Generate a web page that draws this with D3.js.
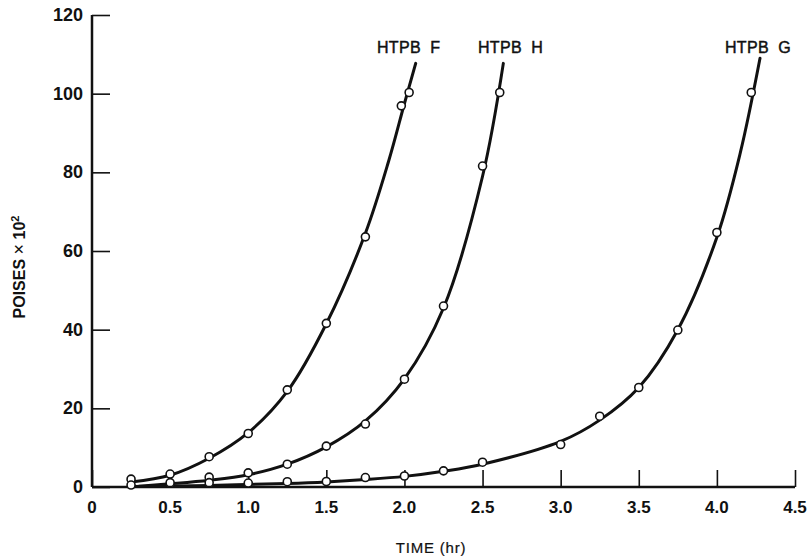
<!DOCTYPE html>
<html lang="en">
<head>
<meta charset="utf-8">
<script src="https://d3js.org/d3.v7.min.js"></script>
<style>
  body { margin: 0; background: #fff; }
  svg { display: block; }
  .tick-lab { font-family: "Liberation Sans", Arial, sans-serif; font-weight: bold; fill: #111; }
  .curve { fill: none; stroke: #111; stroke-width: 3; stroke-linecap: round; }
  .pt { fill: #fff; stroke: #111; stroke-width: 1.6; }
</style>
</head>
<body>
<svg width="812" height="557"></svg>
<script>
var w = 812, h = 557;

// tick labels
var xTicks = [0, 0.5, 1.0, 1.5, 2.0, 2.5, 3.0, 3.5, 4.0, 4.5];
var xTickLabels = ["0", "0.5", "1.0", "1.5", "2.0", "2.5", "3.0", "3.5", "4.0", "4.5"];
var yTicks = [0, 20, 40, 60, 80, 100, 120];

var seriesNames = ["HTPB F", "HTPB H", "HTPB G"];

// measured points (time hr, poises x 10^2)
var fTime = [0.25, 0.5, 0.75, 1.0, 1.25, 1.5, 1.75, 1.98, 2.03];
var fVisc = [2.0, 3.3, 7.7, 13.6, 24.7, 41.6, 63.6, 96.9, 100.3];

var hTime = [0.25, 0.5, 0.75, 1.0, 1.25, 1.5, 1.75, 2.0, 2.25, 2.5, 2.61];
var hVisc = [0.5, 1.1, 2.5, 3.6, 5.8, 10.4, 16.0, 27.4, 46.0, 81.6, 100.3];

var gTime = [0.75, 1.0, 1.25, 1.5, 1.75, 2.0, 2.25, 2.5, 3.0, 3.25, 3.5, 3.75, 4.0, 4.22];
var gVisc = [1.1, 1.0, 1.35, 1.4, 2.4, 2.8, 4.1, 6.3, 10.8, 18.0, 25.3, 39.9, 64.7, 100.3];

// hand drawn fitted curves
var fCurveT = [0.25, 0.5, 0.75, 1.0, 1.25, 1.5, 1.75, 1.9, 2.0, 2.072];
var fCurveV = [1.3, 3.0, 7.3, 13.8, 24.3, 41.5, 64.5, 83, 97.5, 107.7];

var hCurveT = [0.3, 0.5, 0.75, 1.0, 1.25, 1.5, 1.75, 2.0, 2.25, 2.5, 2.633];
var hCurveV = [0.2, 0.8, 1.7, 3.1, 5.8, 10.2, 16.8, 27.5, 45.5, 79, 107.7];

var gCurveT = [0.25, 0.75, 1.25, 1.5, 1.75, 2.0, 2.25, 2.5, 3.0, 3.25, 3.5, 3.75, 4.0, 4.15, 4.276];
var gCurveV = [0.1, 0.4, 0.9, 1.3, 1.9, 2.7, 4.0, 5.8, 11.6, 17, 25.3, 40, 63.5, 85, 109];

var svg = d3.select("svg");

var x = d3.scaleLinear().domain([0, 4.5]).range([92, 795]);
var y = d3.scaleLinear().domain([0, 120]).range([487, 15]);

// axes, ticks point inward
var xAxis = d3.axisTop(x).tickValues(xTicks).tickSize(17).tickFormat(function(d, i) { return ""; });
var gx = svg.append("g").attr("transform", "translate(0," + y(0) + ")").call(xAxis);
gx.select(".domain").attr("d", "M" + x(0) + ",0H" + x(4.5)).attr("stroke", "#111").attr("stroke-width", 2.5);
gx.selectAll(".tick line").attr("stroke", "#111").attr("stroke-width", 1.6);

var yAxis = d3.axisRight(y).tickValues(yTicks).tickSize(18).tickFormat(function() { return ""; });
var gy = svg.append("g").attr("transform", "translate(" + x(0) + ",0)").call(yAxis);
gy.select(".domain").attr("d", "M0," + y(120) + "V" + y(0)).attr("stroke", "#111").attr("stroke-width", 2.5);
gy.selectAll(".tick line").attr("stroke", "#111").attr("stroke-width", 1.6);

// tick labels
svg.selectAll(".xl").data(xTicks).enter().append("text")
  .attr("class", "tick-lab")
  .attr("x", function(d) { return x(d); })
  .attr("y", 513)
  .attr("text-anchor", "middle")
  .attr("font-size", 17)
  .text(function(d, i) { return xTickLabels[i]; });

svg.selectAll(".yl").data(yTicks).enter().append("text")
  .attr("class", "tick-lab")
  .attr("x", 83)
  .attr("y", function(d) { return y(d) + 6; })
  .attr("text-anchor", "end")
  .attr("font-size", 18)
  .text(function(d) { return d; });

// axis titles
svg.append("text")
  .attr("x", 431).attr("y", 553)
  .attr("text-anchor", "middle")
  .attr("font-family", "Liberation Sans, Arial, sans-serif")
  .attr("font-size", 15)
  .attr("letter-spacing", 0.8)
  .attr("fill", "#111")
  .attr("stroke", "#111").attr("stroke-width", 0.2)
  .text("TIME (hr)");

var yt = svg.append("text")
  .attr("transform", "translate(25,267) rotate(-90)")
  .attr("text-anchor", "middle")
  .attr("font-family", "Liberation Sans, Arial, sans-serif")
  .attr("font-weight", "bold")
  .attr("font-size", 16)
  .attr("fill", "#111");
yt.append("tspan").text("POISES ");
yt.append("tspan").attr("font-weight", "normal").attr("font-size", 18).text("\u00d7");
yt.append("tspan").text(" 10");
yt.append("tspan").attr("dy", -6).attr("font-size", 11).text("2");

// curves
var line = d3.line()
  .x(function(d) { return x(d[0]); })
  .y(function(d) { return y(d[1]); })
  .curve(d3.curveCatmullRom.alpha(0.5));

var curves = [[fCurveT, fCurveV], [hCurveT, hCurveV], [gCurveT, gCurveV]];
curves.forEach(function(c) {
  svg.append("path")
    .attr("class", "curve")
    .attr("d", line(c[0].map(function(t, i) { return [t, c[1][i]]; })));
});

// points
var pts = [[fTime, fVisc], [hTime, hVisc], [gTime, gVisc]];
pts.forEach(function(p) {
  svg.append("g").selectAll("circle")
    .data(p[0].map(function(t, i) { return [t, p[1][i]]; }))
    .enter().append("circle")
    .attr("class", "pt")
    .attr("cx", function(d) { return x(d[0]); })
    .attr("cy", function(d) { return y(d[1]); })
    .attr("r", 4);
});

// series labels above the curve ends
var labelX = [377, 478, 725];
svg.selectAll(".slab").data(seriesNames).enter().append("text")
  .attr("x", function(d, i) { return labelX[i]; })
  .attr("y", 53)
  .attr("font-family", "Liberation Sans, Arial, sans-serif")
  .attr("font-size", 16)
  .attr("letter-spacing", 0.3)
  .attr("fill", "#111")
  .attr("stroke", "#111").attr("stroke-width", 0.45)
  .attr("xml:space", "preserve")
  .text(function(d) { return d.replace(" ", "  "); });
</script>
</body>
</html>
